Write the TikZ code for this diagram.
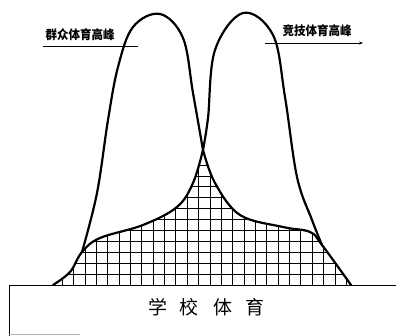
\documentclass[tikz,border=0pt]{standalone}
\usepackage{fontspec}
\newfontfamily\cjk{Noto Sans CJK SC}
\usetikzlibrary{arrows.meta}
\begin{document}
\begin{tikzpicture}[x=1pt,y=-1pt,
  curve/.style={line width=2.2pt,line join=round,line cap=round},
  gridline/.style={line width=0.8pt},
  boxline/.style={line width=0.9pt},
  label/.style={font=\cjk\bfseries\fontsize{12.5}{13}\selectfont,inner sep=0pt,xscale=0.92},
  base/.style={font=\cjk\fontsize{19}{20}\selectfont,inner sep=0pt},
  pointer/.style={line width=0.8pt}]
\useasboundingbox (0,0) rectangle (396,336);
% envelope region (hatched)
\begin{scope}
\clip plot[smooth,tension=0.6] coordinates {(53,285) (70,272) (82,252) (100,238) (143,225) (177,207) (193,183) (203,150)}
  -- plot[smooth,tension=0.6] coordinates {(203,150) (215,183) (240,215) (283,227) (310,232) (322,245) (351,285)} -- cycle;
\foreach \k in {-2,...,24} \draw[gridline] ({85+11.36*\k},140) -- ({85+11.36*\k},286);
\foreach \k in {1,...,13} \draw[gridline] (40,{285-10.9*\k}) -- (360,{285-10.9*\k});
\end{scope}
% envelope outline
\draw[curve] plot[smooth,tension=0.6] coordinates {(53,285) (70,272) (82,252) (100,238) (143,225) (177,207) (193,183) (203,150)};
\draw[curve] plot[smooth,tension=0.6] coordinates {(203,150) (215,183) (240,215) (283,227) (310,232) (322,245) (351,285)};
% left peak
\draw[curve] plot[smooth,tension=0.6] coordinates {(82,252) (97,193) (108,120) (118,67) (133,27) (160,14) (183,38) (193,93) (203,150)};
% right peak
\draw[curve] plot[smooth,tension=0.6] coordinates {(203,150) (208,118) (215,50) (243,13) (273,35) (285,97) (297,177) (312,220) (322,245)};
% base box
\coordinate (bl) at (9,336);
\coordinate (tl) at (9,285);
\coordinate (tr) at (396,285);
\draw[boxline] (bl) -- (tl) -- (tr);
\coordinate (b1) at (9,334);
\coordinate (b2) at (80,334);
\draw[line width=0.6pt,gray!60] (b1) -- (b2);
\node[base] (s1) at (158,307) {学};
\node[base] (s2) at (189,307) {校};
\node[base] (s3) at (223,307) {体};
\node[base] (s4) at (255,307) {育};
% labels
\node[label] (ll) at (80,35) {群众体育高峰};
\coordinate (la) at (43,46);
\coordinate (lb) at (138,46);
\draw[pointer] (la) -- (lb);
\node[label] (rl) at (317,31) {竞技体育高峰};
\coordinate (ra) at (265,43);
\coordinate (rb) at (363,43);
\draw[pointer,-{Stealth[length=4pt,width=3pt]}] (ra) -- (rb);
\end{tikzpicture}
\end{document}
